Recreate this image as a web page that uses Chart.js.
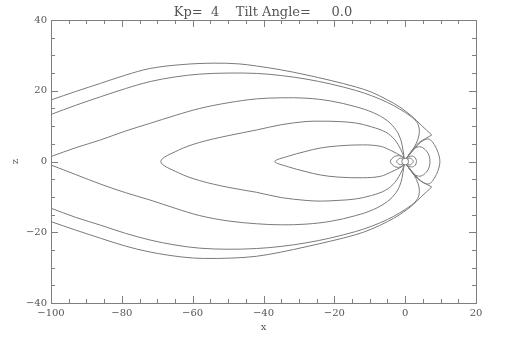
<!DOCTYPE html>
<html><head><meta charset="utf-8">
<script src="https://cdn.jsdelivr.net/npm/chart.js@4/dist/chart.umd.min.js"></script>
<style>html,body{margin:0;padding:0;background:#fff}canvas{display:block}</style>
</head><body>
<canvas id="c" width="510" height="354"></canvas>
<script>
// ---- axis ranges / ticks ----
const xRange = [-100, 20];
const zRange = [-40, 40];
const majorStep = 20;
const minorStep = 5;
const titleText = 'Kp=  4    Tilt Angle=     0.0';

// ---- field lines (x, z in Earth radii) ----
// outermost tail line (to the cusp corner), north / south
const A_up_x = [-100,-93,-86,-79,-72,-63,-54,-47,-42,-35,-28,-21,-14,-9.5,-5,-1.5,2,4.5,7.5];
const A_up_z = [17.4,19.8,22.1,24.4,26.3,27.4,27.8,27.6,27.0,25.9,24.5,22.9,21.1,19.6,17.4,15.4,12.7,10.3,7.5];
const A_lo_x = [-100,-93,-86,-79,-72,-63,-57,-49,-42,-35,-28,-21,-14,-9.5,-5,-1.5,2,4.5,7.5];
const A_lo_z = [-17.0,-19.4,-21.7,-23.9,-25.6,-27.0,-27.4,-27.3,-26.8,-25.6,-24.1,-22.5,-20.7,-19.1,-17.0,-15.0,-12.4,-10.0,-7.2];
// cusp corner back down to Earth
const Ac_up_x = [7.5,5.8,4.2,2.6,1.3,0.45];
const Ac_up_z = [7.5,6.5,5.6,4.0,2.3,1.0];
const Ac_lo_x = [7.5,5.8,4.2,2.6,1.3,0.45];
const Ac_lo_z = [-7.2,-6.3,-5.4,-3.9,-2.2,-1.0];
// second tail line
const B_up_x = [-100,-93,-86,-79,-72,-65,-58,-50,-42,-35,-28,-21,-14,-9.5,-5,-1.5,1.8,3.5,4,3.6,2.6,1.3,0.4];
const B_up_z = [13.3,15.9,18.3,20.6,22.6,23.9,24.7,25.0,24.9,24.3,23.3,21.9,20.1,18.6,16.7,14.8,12.6,10.8,8.6,6.3,4.1,2.2,0.95];
const B_lo_x = [-100,-93,-86,-79,-72,-65,-58,-50,-42,-35,-28,-21,-14,-9.5,-5,-1.5,1.8,3.5,4,3.6,2.6,1.3,0.4];
const B_lo_z = [-13.2,-15.8,-18.0,-20.3,-22.2,-23.6,-24.5,-24.8,-24.6,-24.0,-23.0,-21.6,-19.8,-18.3,-16.4,-14.5,-12.3,-10.5,-8.4,-6.1,-4.0,-2.2,-0.95];
// third tail line (from the left edge near the neutral sheet)
const C_up_x = [-100,-93,-86,-79,-72,-65,-58,-50,-42,-35,-28,-21,-14,-9,-5,-2.5,-1.2,-0.6,-0.3];
const C_up_z = [1.4,3.9,6.1,8.6,10.8,13.0,15.0,16.6,17.7,18.0,17.9,17.1,15.5,13.8,11.5,8.8,6.0,3.2,0.95];
const C_lo_x = [-100,-93,-86,-79,-72,-65,-58,-50,-42,-35,-28,-21,-14,-9,-5,-2.5,-1.2,-0.6,-0.3];
const C_lo_z = [-1.0,-3.7,-6.4,-8.8,-10.9,-13.2,-15.3,-16.8,-17.6,-17.9,-17.7,-16.9,-15.3,-13.6,-11.3,-8.7,-5.9,-3.1,-0.95];
// closed night-side loops
const D_x = [-0.3,-0.8,-2.9,-5.5,-9.5,-14,-19,-24,-28,-35,-42,-50,-58,-64,-69,-64,-58,-50,-42,-35,-28,-24,-19,-14,-9.5,-5.5,-2.9,-0.8,-0.3];
const D_z = [0.95,2.5,6.1,8.3,9.8,10.9,11.3,11.4,11.3,10.4,8.9,7.3,5.4,3.2,0,-3.2,-5.4,-7.3,-8.7,-10.2,-11.0,-11.2,-11.0,-10.6,-9.6,-8.1,-5.9,-2.4,-0.95];
const E_x = [-0.3,-1,-3.8,-7,-12,-19,-24,-28.3,-33,-36.8,-33,-28.3,-24,-19,-12,-7,-3.8,-1,-0.3];
const E_z = [0.95,1.5,3.0,4.3,4.7,4.4,3.8,2.8,1.5,0,-1.5,-2.8,-3.8,-4.4,-4.6,-4.2,-2.9,-1.5,-0.95];
// small loops near the Earth
const L1_x = [-0.45,-1.5,-3,-4.2,-3,-1.5,-0.45];
const L1_z = [0.9,1.6,1.4,0,-1.4,-1.6,-0.9];
const L2_x = [-0.7,-1.5,-2.4,-1.5,-0.7];
const L2_z = [0.75,0.9,0,-0.9,-0.75];
const R1_x = [0.7,1.5,2.3,1.5,0.7];
const R1_z = [0.75,0.9,0,-0.9,-0.75];
const R2_x = [0.45,1.5,2.6,3.2,2.6,1.5,0.45];
const R2_z = [0.9,1.5,1.3,0,-1.3,-1.5,-0.9];
// day-side loops
const R3_x = [0.45,1.5,3,4.5,6,6.8,7,6.8,6,4.5,3,1.5,0.45];
const R3_z = [0.95,2.5,3.9,4.1,3.0,1.5,0,-1.5,-3.0,-4.1,-3.9,-2.5,-0.95];
const R4_x = [0.45,1.8,3.5,5.2,6.8,8.2,9.3,9.8,9.3,8.2,6.8,5.2,3.5,1.8,0.45];
const R4_z = [0.95,2.6,4.6,6.0,6.3,4.8,2.5,0,-2.5,-4.8,-6.3,-6.0,-4.6,-2.6,-0.95];
// Earth
const earth_x = [0];
const earth_z = [0];

const lineColor = '#7a7a7a';
const axisColor = '#7f7f7f';
const textColor = '#555555';

const lines = [
  [A_up_x, A_up_z], [A_lo_x, A_lo_z], [Ac_up_x, Ac_up_z], [Ac_lo_x, Ac_lo_z],
  [B_up_x, B_up_z], [B_lo_x, B_lo_z], [C_up_x, C_up_z], [C_lo_x, C_lo_z],
  [D_x, D_z], [E_x, E_z], [L1_x, L1_z], [L2_x, L2_z], [R1_x, R1_z], [R2_x, R2_z],
  [R3_x, R3_z], [R4_x, R4_z]
];
const toPts = (xs, zs) => xs.map((x, i) => ({x: x, y: zs[i]}));

const datasets = lines.map(([xs, zs]) => ({
  data: toPts(xs, zs), showLine: true, borderColor: lineColor, borderWidth: 1,
  pointRadius: 0, tension: 0.35, fill: false
}));
datasets.push({
  data: toPts(earth_x, earth_z), showLine: false, pointRadius: 3.4,
  pointBackgroundColor: '#ffffff', pointBorderColor: lineColor, pointBorderWidth: 1
});

const boxTicks = {
  id: 'boxTicks',
  afterDraw(chart) {
    const {ctx, chartArea: a, scales: {x, y}} = chart;
    ctx.save();
    ctx.strokeStyle = axisColor;
    ctx.lineWidth = 1;
    ctx.strokeRect(Math.round(a.left) + 0.5, Math.round(a.top) + 0.5,
                   Math.round(a.right - a.left), Math.round(a.bottom - a.top));
    ctx.beginPath();
    for (let v = xRange[0]; v <= xRange[1]; v += minorStep) {
      const px = Math.round(x.getPixelForValue(v)) + 0.5;
      const len = (v % majorStep === 0) ? 7 : 4;
      ctx.moveTo(px, a.bottom); ctx.lineTo(px, a.bottom - len);
      ctx.moveTo(px, a.top); ctx.lineTo(px, a.top + len);
    }
    for (let v = zRange[0]; v <= zRange[1]; v += minorStep) {
      const py = Math.round(y.getPixelForValue(v)) + 0.5;
      const len = (v % majorStep === 0) ? 7 : 4;
      ctx.moveTo(a.left, py); ctx.lineTo(a.left + len, py);
      ctx.moveTo(a.right, py); ctx.lineTo(a.right - len, py);
    }
    ctx.stroke();
    ctx.restore();
  }
};

const fmt = v => String(v).replace('-', '\u2212');
const tickFont = {family: 'DejaVu Serif', size: 10};

new Chart(document.getElementById('c'), {
  type: 'scatter',
  data: {datasets},
  options: {
    responsive: false, animation: false,
    layout: {padding: {left: 16, right: 0, top: 0, bottom: 0}},
    plugins: {
      legend: {display: false}, tooltip: {enabled: false},
      title: {display: true, text: titleText, color: textColor,
              font: {family: 'DejaVu Serif', size: 13, weight: 'normal'},
              padding: {top: 4.4, bottom: 0}}
    },
    scales: {
      x: {
        type: 'linear', min: xRange[0], max: xRange[1],
        ticks: {stepSize: majorStep, color: textColor, font: tickFont, padding: 4,
                maxRotation: 0, callback: fmt},
        grid: {display: false, drawTicks: false},
        border: {display: false},
        title: {display: true, text: 'x', color: textColor, font: tickFont,
                padding: {top: 0, bottom: 21}},
        afterFit: s => { s.height = 51; }
      },
      y: {
        type: 'linear', min: zRange[0], max: zRange[1],
        ticks: {stepSize: majorStep, color: textColor, font: tickFont, padding: 4, callback: fmt},
        grid: {display: false, drawTicks: false},
        border: {display: false},
        title: {display: true, text: 'z', color: textColor, font: tickFont,
                padding: {top: -7, bottom: 0}},
        afterFit: s => { s.width = 35; }
      },
      yRight: {
        type: 'linear', position: 'right', min: zRange[0], max: zRange[1],
        ticks: {display: false}, grid: {display: false, drawTicks: false},
        border: {display: false},
        afterFit: s => { s.width = 34; }
      }
    }
  },
  plugins: [boxTicks]
});
</script>
</body></html>
